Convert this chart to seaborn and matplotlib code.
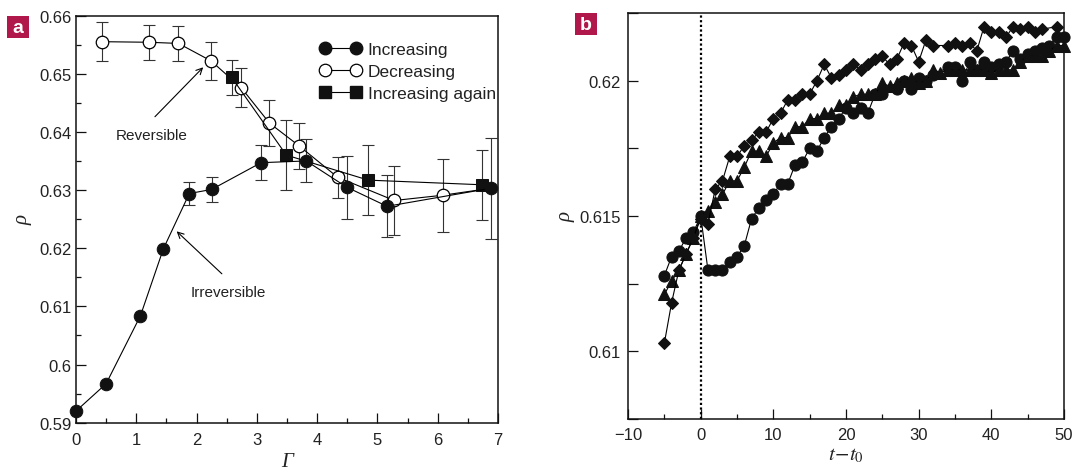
import numpy as np
import matplotlib
matplotlib.use('Agg')
import matplotlib.pyplot as plt
from matplotlib.lines import Line2D
from matplotlib.patches import Rectangle
from matplotlib.ticker import MultipleLocator
import seaborn as sns

# Panel a: packing fraction vs. shear amplitude
gamma_inc = [0.0, 0.50, 1.07, 1.45, 1.88, 2.25, 3.07, 3.82, 4.49, 5.16, 6.88]
rho_inc = [0.5920, 0.5967, 0.6084, 0.6199, 0.6294, 0.6301, 0.6347, 0.6350, 0.6305, 0.6272, 0.6303]
err_inc = [0, 0, 0, 0, 0.0020, 0.0022, 0.0030, 0.0037, 0.0054, 0.0053, 0.0087]

# decreasing run starts where the increasing run ended
gamma_dec = [6.88, 6.08, 5.28, 4.34, 3.70, 3.21, 2.74, 2.24, 1.70, 1.21, 0.43]
rho_dec = [0.6303, 0.6291, 0.6282, 0.6322, 0.6376, 0.6415, 0.6476, 0.6522, 0.6552, 0.6554, 0.6555]
err_dec = [0, 0.0063, 0.0060, 0.0035, 0.0040, 0.0040, 0.0033, 0.0033, 0.0030, 0.0030, 0.0033]

gamma_again = [2.58, 3.49, 4.85, 6.74]
rho_again = [0.6494, 0.6360, 0.6317, 0.6309]
err_again = [0.0030, 0.0060, 0.0060, 0.0060]

legend_labels = ['Increasing', 'Decreasing', 'Increasing again']

# Panel b: time series after the step
t_circ = [-5, -4, -3, -2, -1, 0, 1, 2, 3, 4, 5, 6, 7, 8, 9, 10, 11, 12, 13, 14, 15, 16,
          17, 18, 19, 20, 21, 22, 23, 24, 25, 27, 28, 29, 30, 31, 32, 34, 35, 36, 37, 38,
          39, 40, 41, 42, 43, 44, 45, 46, 47, 48, 49, 50]
rho_circ = [0.6128, 0.6135, 0.6137, 0.6142, 0.6144, 0.6150, 0.6130, 0.6130, 0.6130, 0.6133,
            0.6135, 0.6139, 0.6149, 0.6153, 0.6156, 0.6158, 0.6162, 0.6162, 0.6169, 0.6170,
            0.6175, 0.6174, 0.6179, 0.6183, 0.6186, 0.6190, 0.6188, 0.6190, 0.6188, 0.6195,
            0.6195, 0.6197, 0.6200, 0.6197, 0.6201, 0.6200, 0.6202, 0.6205, 0.6205, 0.6200,
            0.6207, 0.6204, 0.6207, 0.6205, 0.6206, 0.6207, 0.6211, 0.6208, 0.6210, 0.6211,
            0.6212, 0.6213, 0.6216, 0.6216]

t_tri = list(range(-5, 51))
rho_tri = [0.6121, 0.6126, 0.6130, 0.6136, 0.6142, 0.6150, 0.6152, 0.6155, 0.6158, 0.6163,
           0.6163, 0.6168, 0.6174, 0.6174, 0.6172, 0.6177, 0.6179, 0.6179, 0.6183, 0.6183,
           0.6186, 0.6186, 0.6188, 0.6188, 0.6191, 0.6191, 0.6194, 0.6195, 0.6195, 0.6195,
           0.6199, 0.6198, 0.6199, 0.6200, 0.6201, 0.6199, 0.6200, 0.6204, 0.6203, 0.6204,
           0.6204, 0.6204, 0.6204, 0.6204, 0.6204, 0.6203, 0.6204, 0.6204, 0.6204, 0.6207,
           0.6209, 0.6209, 0.6209, 0.6211, 0.6213, 0.6213]

t_dia = [-5, -4, -3, -2, -1, 0, 1, 2, 3, 4, 5, 6, 7, 8, 9, 10, 11, 12, 13, 14, 15, 16, 17,
         18, 19, 20, 21, 22, 23, 24, 25, 26, 27, 28, 29, 30, 31, 32, 34, 35, 36, 37, 38, 39,
         40, 41, 42, 43, 44, 45, 46, 47, 49]
rho_dia = [0.6103, 0.6118, 0.6130, 0.6136, 0.6142, 0.6149, 0.6147, 0.6160, 0.6163, 0.6172,
           0.6172, 0.6176, 0.6178, 0.6181, 0.6181, 0.6186, 0.6188, 0.6193, 0.6193, 0.6195,
           0.6195, 0.6200, 0.6206, 0.6201, 0.6202, 0.6204, 0.6206, 0.6204, 0.6206, 0.6208,
           0.6209, 0.6206, 0.6208, 0.6214, 0.6213, 0.6207, 0.6215, 0.6213, 0.6213, 0.6214,
           0.6213, 0.6214, 0.6211, 0.6220, 0.6218, 0.6218, 0.6216, 0.6220, 0.6219, 0.6220,
           0.6218, 0.6219, 0.6220]

b_xticks = [-10, 0, 10, 20, 30, 40, 50]
b_xticklabels = ['\u221210', '0', '10', '20', '30', '40', '50']

sns.set_theme(style='ticks')
plt.rcParams['font.family'] = ['Liberation Sans Narrow', 'Liberation Sans', 'DejaVu Sans']
plt.rcParams['mathtext.fontset'] = 'stix'

TXT = '#222222'
LW = 0.8
SERIF = ['Liberation Serif', 'DejaVu Serif']

fig = plt.figure(figsize=(10.73, 4.77), dpi=100)
ax_a = fig.add_axes([0.0708, 0.1117, 0.3933, 0.8537])
ax_b = fig.add_axes([0.5853, 0.1195, 0.4063, 0.8511])


def style_axes(ax):
    for sp in ax.spines.values():
        sp.set_linewidth(1.1)
        sp.set_color('#111111')
    ax.tick_params(which='both', direction='in', top=False, right=False,
                   colors='#111111', labelcolor=TXT, labelsize=12, width=0.9)
    ax.tick_params(which='major', length=7)
    ax.tick_params(which='minor', length=3.5)


# ---- panel a ----
ax = ax_a
ax.errorbar(gamma_inc[4:], rho_inc[4:], yerr=err_inc[4:], fmt='none', ecolor='#333333',
            elinewidth=0.8, capsize=4, capthick=0.8, zorder=1, clip_on=False)
ax.errorbar(gamma_dec[1:], rho_dec[1:], yerr=err_dec[1:], fmt='none', ecolor='#333333',
            elinewidth=0.8, capsize=4, capthick=0.8, zorder=1, clip_on=False)
ax.errorbar(gamma_again, rho_again, yerr=err_again, fmt='none', ecolor='#333333',
            elinewidth=0.8, capsize=4, capthick=0.8, zorder=1, clip_on=False)

sns.lineplot(x=gamma_dec, y=rho_dec, ax=ax, sort=False, estimator=None, color='black',
             lw=LW, marker='o', markevery=list(range(1, len(gamma_dec))), ms=9,
             mfc='white', mec='black', mew=0.9, zorder=3, clip_on=False)
sns.lineplot(x=gamma_again, y=rho_again, ax=ax, sort=False, estimator=None, color='black',
             lw=LW, marker='s', ms=8, mfc='#111111', mec='#111111', zorder=4, clip_on=False)
sns.lineplot(x=gamma_inc, y=rho_inc, ax=ax, sort=False, estimator=None, color='black',
             lw=LW, marker='o', ms=9, mfc='#111111', mec='#111111', zorder=5, clip_on=False)

ax.set_xlim(0, 7)
ax.set_ylim(0.59, 0.66)
ax.xaxis.set_major_locator(MultipleLocator(1))
ax.xaxis.set_minor_locator(MultipleLocator(0.5))
ax.set_yticks([0.59, 0.6, 0.61, 0.62, 0.63, 0.64, 0.65, 0.66])
ax.set_yticklabels(['0.59', '0.6', '0.61', '0.62', '0.63', '0.64', '0.65', '0.66'])
ax.yaxis.set_minor_locator(MultipleLocator(0.005))
style_axes(ax)
ax.tick_params(axis='x', pad=7)
ax.tick_params(axis='y', pad=3)
ax.set_xlabel('\u0393', fontsize=15, color=TXT, labelpad=3, family=SERIF, style='italic')
ax.set_ylabel('\u03c1', fontsize=15, color=TXT, labelpad=5, family=SERIF, style='italic')

handles = [
    Line2D([], [], color='black', lw=LW, marker='o', ms=9, mfc='#111111', mec='#111111'),
    Line2D([], [], color='black', lw=LW, marker='o', ms=9, mfc='white', mec='black', mew=0.9),
    Line2D([], [], color='black', lw=LW, marker='s', ms=8, mfc='#111111', mec='#111111'),
]
ax.legend(handles, legend_labels, numpoints=2, frameon=False, loc='upper left',
          bbox_to_anchor=(0.578, 0.935), borderaxespad=0, borderpad=0,
          handlelength=2.4, handletextpad=0.35, labelspacing=0.4, fontsize=12.5,
          labelcolor=TXT)

arrow = dict(arrowstyle='->', color='black', lw=0.8, mutation_scale=11, shrinkA=0, shrinkB=0)
ax.annotate('', xy=(2.11, 0.6511), xytext=(1.31, 0.6426), arrowprops=arrow)
ax.text(1.26, 0.6394, 'Reversible', ha='center', va='center', fontsize=11, color=TXT)
ax.annotate('', xy=(1.67, 0.6229), xytext=(2.42, 0.6156), arrowprops=arrow)
ax.text(2.53, 0.6125, 'Irreversible', ha='center', va='center', fontsize=11, color=TXT)

# ---- panel b ----
ax = ax_b
ax.axvline(0, color='black', lw=1.6, ls=(0, (1, 1.1)), zorder=1)
sns.lineplot(x=t_circ, y=rho_circ, ax=ax, sort=False, estimator=None, color='black',
             lw=LW, marker='o', ms=8, mfc='#111111', mec='#111111', zorder=3, clip_on=False)
sns.lineplot(x=t_tri, y=rho_tri, ax=ax, sort=False, estimator=None, color='black',
             lw=LW, marker='^', ms=8.5, mfc='#111111', mec='#111111', zorder=3, clip_on=False)
sns.lineplot(x=t_dia, y=rho_dia, ax=ax, sort=False, estimator=None, color='black',
             lw=LW, marker='D', ms=6, mfc='#111111', mec='#111111', zorder=3, clip_on=False)

ax.set_xlim(-10, 50)
ax.set_ylim(0.6075, 0.6225)
ax.set_xticks(b_xticks)
ax.set_xticklabels(b_xticklabels)
ax.xaxis.set_minor_locator(MultipleLocator(5))
ax.set_yticks([0.61, 0.615, 0.62])
ax.set_yticklabels(['0.61', '0.615', '0.62'])
ax.yaxis.set_minor_locator(MultipleLocator(0.0025))
style_axes(ax)
ax.tick_params(axis='y', which='minor', length=7)
ax.tick_params(axis='x', pad=6)
ax.tick_params(axis='y', pad=5)
ax.set_xlabel(r'$t\!-\!t_{\mathrm{0}}$', fontsize=15, color=TXT, labelpad=2)
ax.set_ylabel('\u03c1', fontsize=15, color=TXT, labelpad=3, family=SERIF, style='italic')

# panel letters
W, H = 1073.0, 477.0
for x0, y0, letter in [(7, 17, 'a'), (575, 14, 'b')]:
    fig.add_artist(Rectangle((x0 / W, 1 - (y0 + 22) / H), 22 / W, 22 / H,
                             transform=fig.transFigure, fc='#b0174a', ec='none'))
    fig.text((x0 + 11) / W, 1 - (y0 + 11.5) / H, letter, color='white', weight='bold',
             fontsize=14, ha='center', va='center', family=['Liberation Sans', 'DejaVu Sans'])

fig.savefig('out.png', dpi=100)
